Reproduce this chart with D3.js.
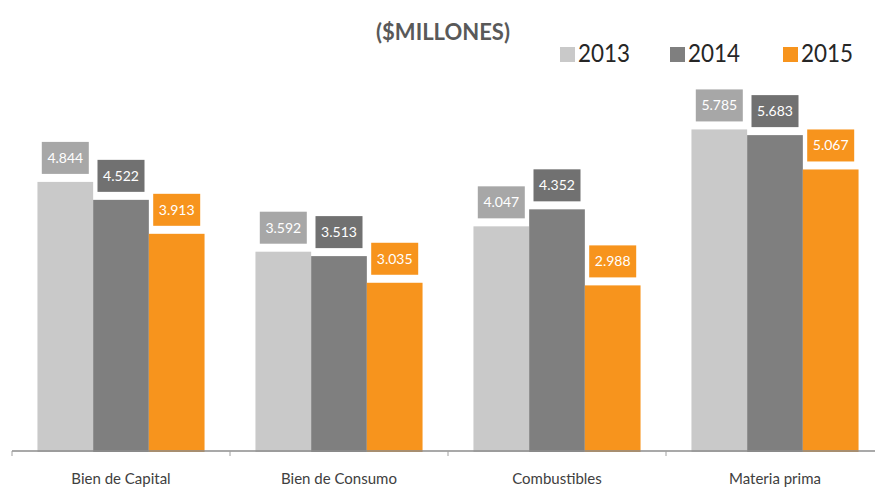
<!DOCTYPE html>
<html>
<head>
<meta charset="utf-8">
<script src="https://cdn.jsdelivr.net/npm/d3@7"></script>
<style>
  html, body { margin: 0; padding: 0; background: #ffffff; }
  svg { display: block; }
</style>
</head>
<body>
<svg id="chart" width="875" height="491"></svg>
<script>
// Importaciones por uso económico, en millones de dólares
const categories = ["Bien de Capital", "Bien de Consumo", "Combustibles", "Materia prima"];
const years = ["2013", "2014", "2015"];
const values2013 = [4844, 3592, 4047, 5785];
const values2014 = [4522, 3513, 4352, 5683];
const values2015 = [3913, 3035, 2988, 5067];
const title = "($MILLONES)";

const seriesValues = { "2013": values2013, "2014": values2014, "2015": values2015 };
const barColor = { "2013": "#c9c9c9", "2014": "#7f7f7f", "2015": "#f7941d" };
const tagColor = { "2013": "#a7a7a7", "2014": "#717171", "2015": "#f7941d" };

const fmt = d3.formatLocale({ decimal: ",", thousands: ".", grouping: [3], currency: ["$", ""] }).format(",d");

const svg = d3.select("#chart");
const W = 875, H = 491;
const baseY = 452;

const x0 = d3.scaleBand().domain(categories).range([12, 884]).paddingInner(0).paddingOuter(0);
const x1 = d3.scaleBand().domain(years).range([0, x0.bandwidth()]).paddingInner(0).paddingOuter(0.457);
const y = d3.scaleLinear().domain([0, 6000]).range([baseY, baseY - 6000 * 0.05576]);

const rows = [];
categories.forEach((c, i) => years.forEach(yr => rows.push({ cat: c, year: yr, value: seriesValues[yr][i] })));

// Bars
svg.append("g").selectAll("rect").data(rows).join("rect")
  .attr("x", d => x0(d.cat) + x1(d.year))
  .attr("y", d => y(d.value))
  .attr("width", x1.bandwidth())
  .attr("height", d => y(0) - y(d.value))
  .attr("fill", d => barColor[d.year]);

// Category axis
const axis = svg.append("g").attr("transform", `translate(0,${baseY - 1})`)
  .call(d3.axisBottom(x0).tickSize(0).tickPadding(22).tickSizeOuter(0));
axis.select(".domain").attr("stroke", "#8c8c8c").attr("stroke-width", 1.5).attr("d", `M12,0H${W}`);
axis.selectAll(".tick text")
  .attr("font-family", "Lato, 'Open Sans', sans-serif")
  .attr("font-size", 15).attr("fill", "#404040");
// Boundary tick marks between categories
axis.append("g").selectAll("line").data(categories).join("line")
  .attr("x1", d => x0(d)).attr("x2", d => x0(d))
  .attr("y1", 0).attr("y2", 5)
  .attr("stroke", "#a0a0a0").attr("stroke-width", 1);

// Value tags above each bar
const tagW = 47, tagH = 32, tagGap = 8;
const tags = svg.append("g").selectAll("g").data(rows).join("g")
  .attr("transform", d => `translate(${x0(d.cat) + x1(d.year) + x1.bandwidth() / 2},${y(d.value) - tagGap - tagH})`);
tags.append("rect")
  .attr("x", -tagW / 2).attr("y", 0)
  .attr("width", tagW).attr("height", tagH)
  .attr("fill", d => tagColor[d.year]);
tags.append("text")
  .attr("x", 0).attr("y", tagH / 2)
  .attr("dy", "0.36em")
  .attr("text-anchor", "middle")
  .attr("font-family", "Lato, 'Open Sans', sans-serif")
  .attr("font-size", 14)
  .attr("fill", "#ffffff")
  .text(d => fmt(d.value));

// Title
svg.append("text")
  .attr("x", 443).attr("y", 40)
  .attr("text-anchor", "middle")
  .attr("font-family", "Lato, 'Open Sans', sans-serif")
  .attr("font-weight", "bold")
  .attr("font-size", 22)
  .attr("fill", "#595959")
  .text(title);

// Legend
const legendX = { "2013": 560, "2014": 670, "2015": 783 };
const legend = svg.append("g").selectAll("g").data(years).join("g")
  .attr("transform", d => `translate(${legendX[d]},47)`);
legend.append("rect").attr("width", 15).attr("height", 15).attr("fill", d => barColor[d]);
legend.append("text")
  .attr("x", 18).attr("y", 15)
  .attr("font-family", "Lato, 'Open Sans', sans-serif")
  .attr("font-size", 25)
  .attr("textLength", 52)
  .attr("lengthAdjust", "spacingAndGlyphs")
  .attr("fill", "#262626")
  .text(d => d);
</script>
</body>
</html>
